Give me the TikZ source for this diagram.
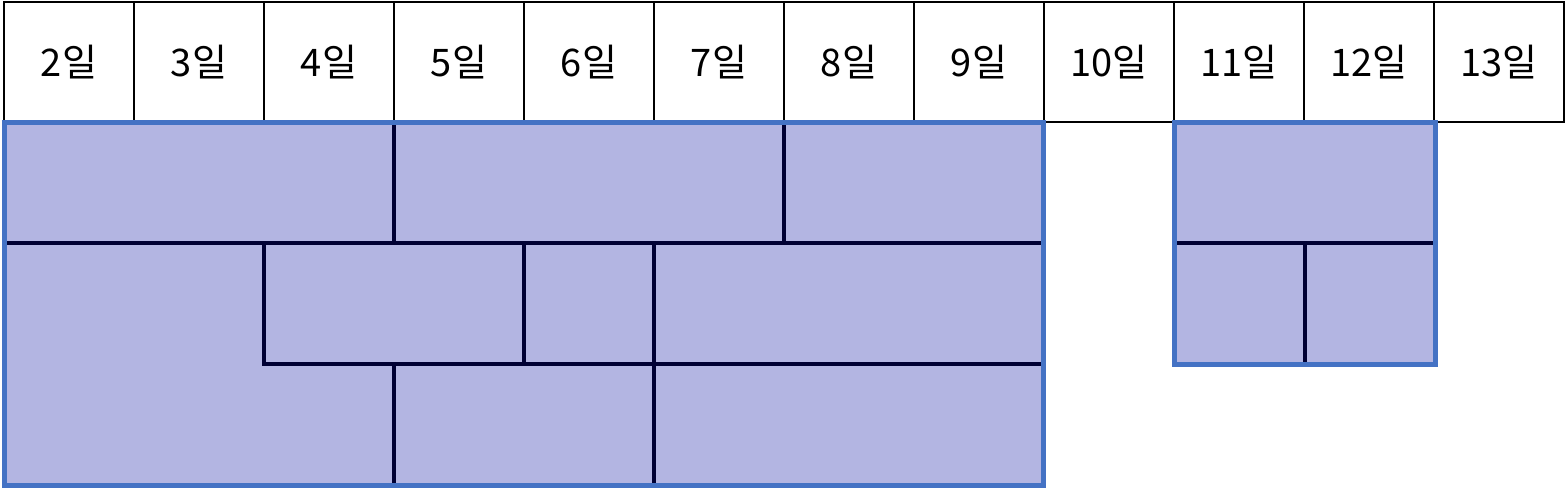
\documentclass[tikz,border=0pt]{standalone}
\usepackage{fontspec}
\setmainfont{Noto Sans CJK KR}
\usetikzlibrary{positioning}
\definecolor{slotfill}{RGB}{179,181,226}
\definecolor{slotedge}{RGB}{68,114,196}
\definecolor{splitcolor}{RGB}{0,0,51}
\tikzstyle{day} = [rectangle, draw=black, line width=1pt,
                   minimum width=65pt, minimum height=60pt,
                   inner sep=0pt, outer sep=0pt,
                   font=\fontsize{19}{22}\selectfont]
\tikzstyle{split} = [draw=splitcolor, line width=2pt]
\tikzstyle{slot} = [draw=slotedge, line width=2.5pt]

\begin{document}
\begin{tikzpicture}[x=0.5pt, y=-0.5pt]
        \useasboundingbox (0,0) rectangle (1566,488);

        % day header
        \node (d2) [day, anchor=north west] at (4,2) {2일};
        \foreach \d [evaluate=\d as \p using int(\d-1)] in {3,...,13}
            \node (d\d) [day, right=0pt of d\p] {{\d}일};

        % first block
        \fill [slotfill] (d2.south west) rectangle (1043,485);
        \draw [split] (4,243) -- (1043,243);
        \draw [split] (394,122) -- (394,243);
        \draw [split] (784,122) -- (784,243);
        \draw [split] (264,243) -- (264,364) -- (1043,364);
        \draw [split] (524,243) -- (524,364);
        \draw [split] (654,243) -- (654,485);
        \draw [split] (394,364) -- (394,485);
        \draw [slot] (d2.south west) rectangle (1043,485);

        % second block
        \fill [slotfill] (d11.south west) rectangle (1435,364);
        \draw [split] (1174,243) -- (1435,243);
        \draw [split] (1305,243) -- (1305,364);
        \draw [slot] (d11.south west) rectangle (1435,364);

\end{tikzpicture}
\end{document}
